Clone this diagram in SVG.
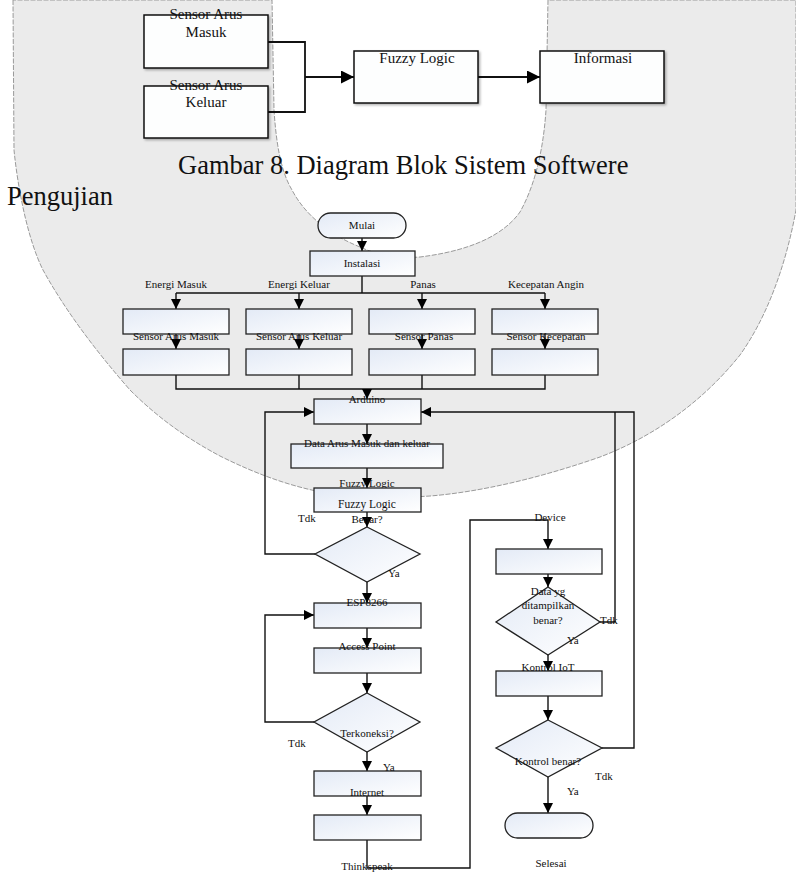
<svg xmlns="http://www.w3.org/2000/svg" width="796" height="872" viewBox="0 0 796 872">
<defs>
<style>
text{font-family:"Liberation Serif","Times New Roman",serif;fill:#111}
.big{font-size:26.5px}
.blk{font-size:15px;text-anchor:middle}
.fc{font-size:11px;text-anchor:middle}
.lb{font-size:11px}
.tb{fill:#fdfefe;stroke:#111;stroke-width:1.5;filter:url(#sh)}
.fb{fill:url(#gr);stroke:#222;stroke-width:1.3}
.ln{fill:none;stroke:#111;stroke-width:1.4}
.lt{fill:none;stroke:#111;stroke-width:1.8}
.bg{fill:#ebebeb;stroke:#9a9a9a;stroke-width:1;stroke-dasharray:5 1.5}
</style>
<linearGradient id="gr" x1="0" y1="0" x2="1" y2="1">
<stop offset="0" stop-color="#e3eaf6"/>
<stop offset="1" stop-color="#ffffff"/>
</linearGradient>
<filter id="sh" x="-10%" y="-10%" width="130%" height="130%">
<feDropShadow dx="1.5" dy="1.5" stdDeviation="1" flood-color="#000" flood-opacity="0.3"/>
</filter>
<marker id="a" markerUnits="userSpaceOnUse" markerWidth="10" markerHeight="10" viewBox="0 0 10 10" refX="10" refY="5" orient="auto">
<path d="M0,0 L10,5 L0,10 Z" fill="#000"/>
</marker>
<marker id="A" markerUnits="userSpaceOnUse" markerWidth="13" markerHeight="13" viewBox="0 0 12 12" refX="12" refY="6" orient="auto">
<path d="M0,0 L12,6 L0,12 Z" fill="#000"/>
</marker>
</defs>

<g id="background">
<path class="bg" d="M13,0 L14,150 C18,190 28,240 43,270 C65,310 95,350 130,390 C160,420 190,440 220,456 C260,476 300,490 340,495 C370,498 400,498 430,496 C480,492 540,478 600,457 C650,438 700,405 740,355 C765,320 785,270 796,210 L796,0 L548,0 L546,110 C544,140 538,180 520,212 C500,240 460,252 420,257 C395,259 375,254 360,247 C330,235 305,215 292,190 C280,170 276,140 274,110 L272,0 Z"/>
</g>

<g id="caption">
<text class="big" x="178" y="174">Gambar 8. Diagram Blok Sistem Softwere</text>
<text class="big" x="7" y="205">Pengujian</text>
</g>

<g id="connectors">
<polyline class="lt" points="268,42 305,42 305,112 268,112"/>
<line class="lt" x1="305" y1="77" x2="354" y2="77" marker-end="url(#A)"/>
<line class="lt" x1="478" y1="77" x2="540" y2="77" marker-end="url(#A)"/>

<line class="ln" x1="362" y1="238" x2="362" y2="251" marker-end="url(#a)"/>
<line class="ln" x1="362" y1="276" x2="362" y2="293"/>
<line class="ln" x1="176" y1="293" x2="545" y2="293"/>
<line class="ln" x1="176" y1="293" x2="176" y2="309" marker-end="url(#a)"/>
<line class="ln" x1="299" y1="293" x2="299" y2="309" marker-end="url(#a)"/>
<line class="ln" x1="422" y1="293" x2="422" y2="309" marker-end="url(#a)"/>
<line class="ln" x1="545" y1="293" x2="545" y2="309" marker-end="url(#a)"/>
<line class="ln" x1="176" y1="334" x2="176" y2="349" marker-end="url(#a)"/>
<line class="ln" x1="299" y1="334" x2="299" y2="349" marker-end="url(#a)"/>
<line class="ln" x1="422" y1="334" x2="422" y2="349" marker-end="url(#a)"/>
<line class="ln" x1="545" y1="334" x2="545" y2="349" marker-end="url(#a)"/>
<polyline class="ln" points="176,375 176,389 545,389 545,375"/>
<line class="ln" x1="299" y1="375" x2="299" y2="389"/>
<line class="ln" x1="422" y1="375" x2="422" y2="389"/>
<line class="ln" x1="367" y1="389" x2="367" y2="399" marker-end="url(#a)"/>
<line class="ln" x1="367" y1="424" x2="367" y2="444" marker-end="url(#a)"/>
<line class="ln" x1="367" y1="468" x2="367" y2="488" marker-end="url(#a)"/>
<line class="ln" x1="367" y1="512" x2="367" y2="527" marker-end="url(#a)"/>
<polyline class="ln" points="315,554 265,554 265,412 314,412" marker-end="url(#a)"/>
<polyline class="ln" points="602,748 634,748 634,412 421,412" marker-end="url(#a)"/>
<polyline class="ln" points="600,622 615,622 615,412"/>
<line class="ln" x1="367" y1="582" x2="367" y2="603" marker-end="url(#a)"/>
<line class="ln" x1="367" y1="628" x2="367" y2="648" marker-end="url(#a)"/>
<line class="ln" x1="367" y1="673" x2="367" y2="693" marker-end="url(#a)"/>
<polyline class="ln" points="314,722 265,722 265,615 314,615" marker-end="url(#a)"/>
<line class="ln" x1="367" y1="752" x2="367" y2="771" marker-end="url(#a)"/>
<line class="ln" x1="367" y1="796" x2="367" y2="815" marker-end="url(#a)"/>
<polyline class="ln" points="367,840 367,868 470,868 470,520 548,520 548,549" marker-end="url(#a)"/>
<line class="ln" x1="548" y1="574" x2="548" y2="587" marker-end="url(#a)"/>
<line class="ln" x1="548" y1="655" x2="548" y2="671" marker-end="url(#a)"/>
<line class="ln" x1="548" y1="696" x2="548" y2="720" marker-end="url(#a)"/>
<line class="ln" x1="548" y1="777" x2="548" y2="813" marker-end="url(#a)"/>
</g>

<g id="sensor-masuk"><rect class="tb" x="144" y="15" width="124" height="53"/><text class="blk" x="206" y="19">Sensor Arus</text><text class="blk" x="206" y="37">Masuk</text></g>
<g id="sensor-keluar"><rect class="tb" x="144" y="86" width="124" height="52"/><text class="blk" x="206" y="90">Sensor Arus</text><text class="blk" x="206" y="107">Keluar</text></g>
<g id="fuzzy-block"><rect class="tb" x="354" y="51" width="124" height="52"/><text class="blk" x="417" y="63">Fuzzy Logic</text></g>
<g id="informasi"><rect class="tb" x="540" y="51" width="124" height="52"/><text class="blk" x="603" y="63">Informasi</text></g>

<g id="mulai"><rect class="fb" x="318" y="213" width="88" height="25" rx="12.5"/><text class="fc" x="362" y="229">Mulai</text></g>
<g id="instalasi"><rect class="fb" x="310" y="251" width="105" height="25"/><text class="fc" x="362" y="267">Instalasi</text></g>

<g id="energi-masuk"><text class="fc" x="176" y="288">Energi Masuk</text><rect class="fb" x="123" y="309" width="106" height="25"/></g>
<g id="energi-keluar"><text class="fc" x="299" y="288">Energi Keluar</text><rect class="fb" x="246" y="309" width="106" height="25"/></g>
<g id="panas"><text class="fc" x="423" y="288">Panas</text><rect class="fb" x="369" y="309" width="106" height="25"/></g>
<g id="kecepatan-angin"><text class="fc" x="546" y="288">Kecepatan Angin</text><rect class="fb" x="492" y="309" width="106" height="25"/></g>

<g id="sensor-arus-masuk"><rect class="fb" x="123" y="349" width="106" height="26"/><text class="fc" x="176" y="340">Sensor Arus Masuk</text></g>
<g id="sensor-arus-keluar"><rect class="fb" x="246" y="349" width="106" height="26"/><text class="fc" x="299" y="340">Sensor Arus Keluar</text></g>
<g id="sensor-panas"><rect class="fb" x="369" y="349" width="106" height="26"/><text class="fc" x="424" y="340">Sensor Panas</text></g>
<g id="sensor-kecepatan"><rect class="fb" x="492" y="349" width="106" height="26"/><text class="fc" x="546" y="340">Sensor Kecepatan</text></g>

<g id="arduino"><rect class="fb" x="314" y="399" width="107" height="25"/><text class="fc" x="367" y="403">Arduino</text></g>
<g id="data-arus"><rect class="fb" x="291" y="444" width="152" height="24"/><text class="fc" x="367" y="447">Data Arus Masuk dan keluar</text></g>
<g id="fuzzy-logic"><text class="fc" x="367" y="487">Fuzzy Logic</text><rect class="fb" x="314" y="488" width="107" height="24"/><text class="fc" x="367" y="508" style="font-size:11.5px">Fuzzy Logic</text></g>
<g id="benar"><polygon class="fb" points="367,527 420,554 367,582 315,554"/><text class="fc" x="367" y="523">Benar?</text><text class="lb" x="298" y="522">Tdk</text><text class="lb" x="388" y="577">Ya</text></g>

<g id="esp8266"><rect class="fb" x="314" y="603" width="107" height="25"/><text class="fc" x="367" y="606">ESP8266</text></g>
<g id="access-point"><rect class="fb" x="314" y="648" width="107" height="25"/><text class="fc" x="367" y="650">Access Point</text></g>
<g id="terkoneksi"><polygon class="fb" points="367,693 420,722 367,752 314,722"/><text class="fc" x="367" y="737">Terkoneksi?</text><text class="lb" x="288" y="747">Tdk</text><text class="lb" x="383" y="771">Ya</text></g>
<g id="internet"><rect class="fb" x="314" y="771" width="107" height="25"/><text class="fc" x="367" y="796">Internet</text></g>
<g id="thinkspeak"><rect class="fb" x="314" y="815" width="107" height="25"/><text class="fc" x="367" y="870">Thinkspeak</text></g>

<g id="device"><rect class="fb" x="496" y="549" width="106" height="25"/><text class="fc" x="550" y="521">Device</text></g>
<g id="data-yg"><polygon class="fb" points="548,587 600,622 548,655 496,622"/><text class="fc" x="548" y="595">Data yg</text><text class="fc" x="548" y="609">ditampilkan</text><text class="fc" x="548" y="624">benar?</text><text class="lb" x="600" y="624">Tdk</text><text class="lb" x="567" y="644">Ya</text></g>
<g id="kontrol-iot"><rect class="fb" x="496" y="671" width="106" height="25"/><text class="fc" x="548" y="671">Kontrol IoT</text></g>
<g id="kontrol-benar"><polygon class="fb" points="548,720 602,748 548,777 496,748"/><text class="fc" x="548" y="765">Kontrol benar?</text><text class="lb" x="595" y="780">Tdk</text><text class="lb" x="567" y="795">Ya</text></g>
<g id="selesai"><rect class="fb" x="505" y="813" width="88" height="25" rx="12.5"/><text class="fc" x="551" y="867">Selesai</text></g>
</svg>
